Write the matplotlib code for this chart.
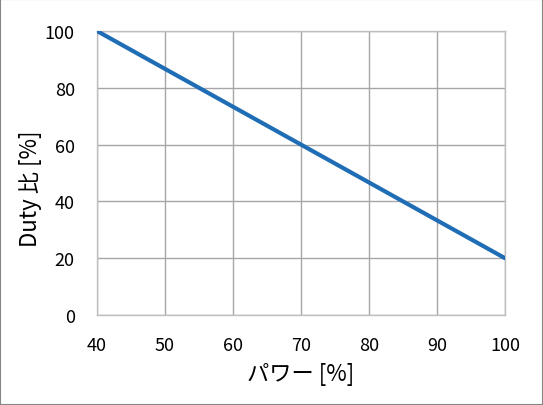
import matplotlib
matplotlib.use('Agg')
import matplotlib.pyplot as plt
from matplotlib.patches import Rectangle

plt.rcParams['font.family'] = ['Noto Sans CJK JP', 'DejaVu Sans']

power = [40, 100]
duty = [100, 20]
xticks = [40, 50, 60, 70, 80, 90, 100]
yticks = [0, 20, 40, 60, 80, 100]

fig = plt.figure(figsize=(5.43, 4.06), dpi=100)
ax = fig.add_axes([0.1786, 0.2217, 0.7514, 0.6995])

ax.plot(power, duty, color='#1F6DB5', lw=3, solid_capstyle='round', zorder=3)

ax.set_xlim(40, 100)
ax.set_ylim(0, 100)
ax.set_xticks(xticks)
ax.set_yticks(yticks)
ax.grid(True, color='#A6A6A6', lw=1)
for s in ax.spines.values():
    s.set_color('#BFBFBF')
    s.set_linewidth(1)
ax.tick_params(axis='x', length=0, labelsize=13, pad=15)
ax.tick_params(axis='y', length=0, labelsize=13, pad=16)
ax.set_xlabel('パワー [%]', fontsize=16)
ax.set_ylabel('Duty 比 [%]', fontsize=16)
ax.xaxis.set_label_coords(0.5, -0.165, transform=ax.transAxes)
ax.yaxis.set_label_coords(-0.135, 0.447, transform=ax.transAxes)

fig.patches.append(Rectangle((0, 0), 1, 1, transform=fig.transFigure,
                             fill=False, edgecolor='#868686', lw=1.5))

fig.savefig('out.png', dpi=100)
